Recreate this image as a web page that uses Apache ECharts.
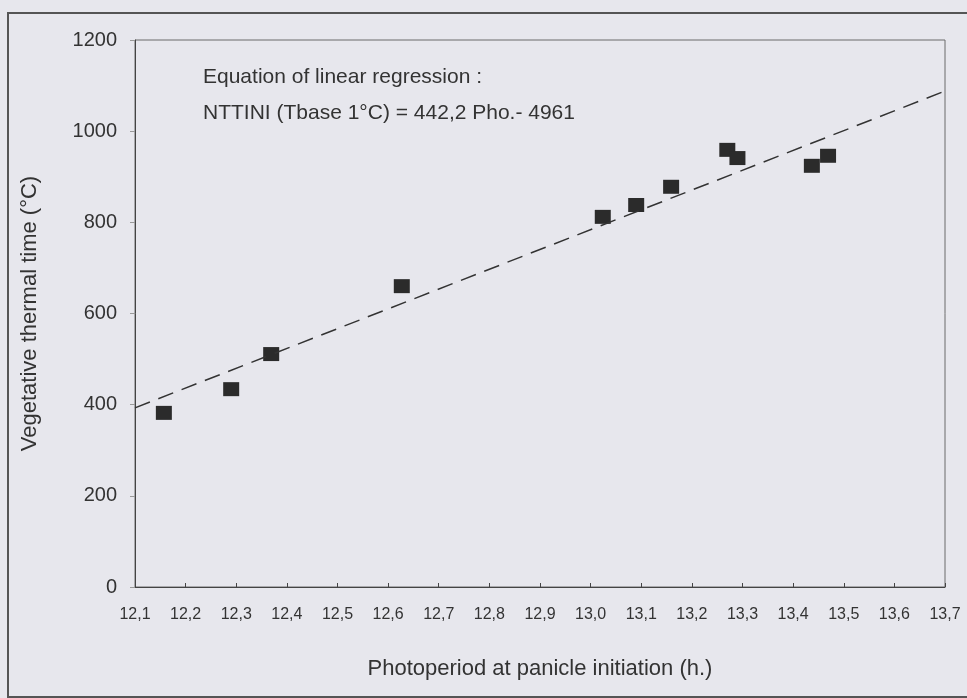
<!DOCTYPE html>
<html>
<head>
<meta charset="utf-8">
<script src="https://cdn.jsdelivr.net/npm/echarts@6/dist/echarts.min.js"></script>
<style>
  html, body { margin: 0; padding: 0; background: #e7e7ed; }
  #chart { width: 967px; height: 698px; }
</style>
</head>
<body>
<div id="chart"></div>
<script>
// photoperiod at panicle initiation (h.) vs vegetative thermal time (°C)
var photoperiod = [12.157, 12.29, 12.369, 12.627, 13.024, 13.09, 13.159, 13.27, 13.29, 13.437, 13.469];
var thermalTime = [382, 434, 511, 660, 812, 838, 878, 959, 941, 924, 946];

// regression line ends
var regX = [12.1, 13.7];
var regY = [393, 1088];

var yTicks = [0, 200, 400, 600, 800, 1000, 1200];

var eqLines = ["Equation of linear regression :", "NTTINI (Tbase 1°C) = 442,2 Pho.- 4961"];

var font = "'Liberation Sans', Arial, sans-serif";
var ink = "#333333";

var myChart = echarts.init(document.getElementById("chart"));

var option = {
  backgroundColor: "#e7e7ed",
  animation: false,
  grid: {
    left: 135,
    right: 22,
    top: 40,
    bottom: 111,
    show: true,
    borderColor: "#6a6a6a",
    borderWidth: 1,
    backgroundColor: "transparent"
  },
  xAxis: {
    type: "value",
    min: 12.1,
    max: 13.7,
    interval: 0.1,
    name: "Photoperiod at panicle initiation (h.)",
    nameLocation: "middle",
    nameGap: 71,
    nameTextStyle: { color: ink, fontSize: 22, fontFamily: font },
    axisLine: { lineStyle: { color: "#444444", width: 1 } },
    axisTick: { inside: true, length: 4, lineStyle: { color: "#444444" } },
    axisLabel: {
      color: ink,
      fontSize: 16,
      fontFamily: font,
      margin: 20,
      formatter: function (v) {
        return v.toFixed(1).replace(".", ",");
      }
    },
    splitLine: { show: false }
  },
  yAxis: {
    type: "value",
    min: yTicks[0],
    max: yTicks[yTicks.length - 1],
    interval: 200,
    name: "Vegetative thermal time (°C)",
    nameLocation: "middle",
    nameGap: 94,
    nameTextStyle: { color: ink, fontSize: 22, fontFamily: font },
    axisLine: { show: true, lineStyle: { color: "#444444", width: 1 } },
    axisTick: { show: true, length: 5, lineStyle: { color: "#999999" } },
    axisLabel: {
      color: ink,
      fontSize: 20,
      fontFamily: font,
      margin: 18,
      formatter: function (v) { return String(v); }
    },
    splitLine: { show: false }
  },
  graphic: [
    {
      type: "rect",
      shape: { x: 8, y: 13, width: 980, height: 684 },
      style: { fill: "transparent", stroke: "#555555", lineWidth: 2 },
      silent: true
    },
    {
      type: "text",
      left: 203,
      top: 67,
      style: { text: eqLines[0], fill: ink, font: "21px " + font }
    },
    {
      type: "text",
      left: 203,
      top: 103,
      style: { text: eqLines[1], fill: ink, font: "21px " + font }
    }
  ],
  series: [
    {
      name: "regression",
      type: "line",
      data: [[regX[0], regY[0]], [regX[1], regY[1]]],
      showSymbol: false,
      symbol: "none",
      lineStyle: { color: "#333333", width: 1.5, type: [16, 9] },
      silent: true
    },
    {
      name: "observed",
      type: "scatter",
      data: photoperiod.map(function (x, i) { return [x, thermalTime[i]]; }),
      symbol: "rect",
      symbolSize: [16, 14],
      itemStyle: { color: "#2b2b2b", opacity: 1 }
    }
  ]
};

myChart.setOption(option);
</script>
</body>
</html>
